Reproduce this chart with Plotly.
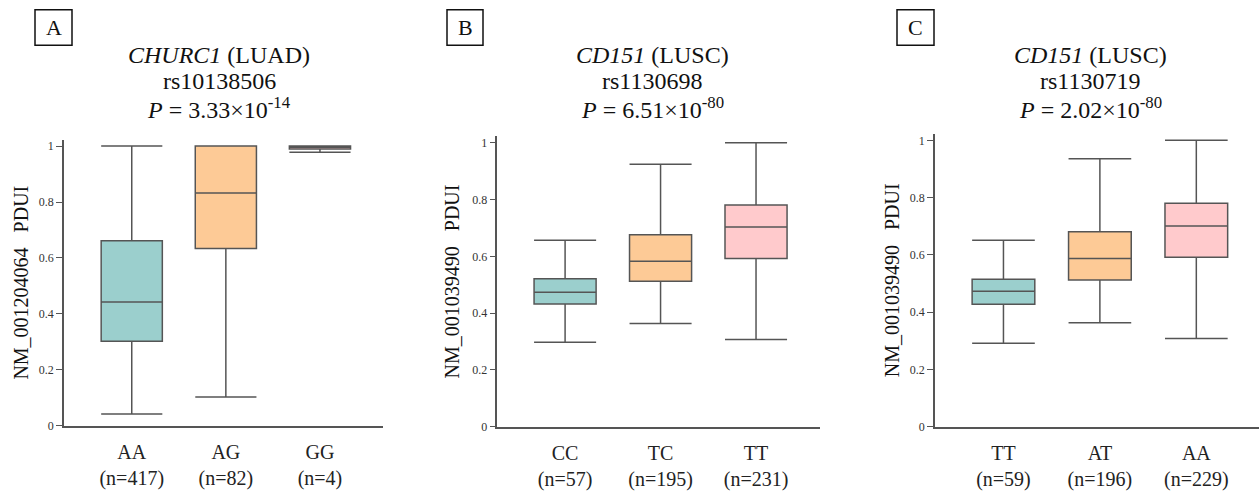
import plotly.graph_objects as go

# ---------------- data ----------------
genotypes_A = ["AA", "AG", "GG"]
n_A = [417, 82, 4]
lower_A = [0.041, 0.102, 0.978]
q1_A = [0.302, 0.634, 0.990]
median_A = [0.442, 0.832, 0.996]
q3_A = [0.661, 1.000, 1.000]
upper_A = [1.000, 1.000, 1.000]

genotypes_B = ["CC", "TC", "TT"]
n_B = [57, 195, 231]
lower_B = [0.297, 0.363, 0.307]
q1_B = [0.432, 0.512, 0.592]
median_B = [0.473, 0.583, 0.703]
q3_B = [0.521, 0.676, 0.781]
upper_B = [0.657, 0.925, 1.000]

genotypes_C = ["TT", "AT", "AA"]
n_C = [59, 196, 229]
lower_C = [0.291, 0.363, 0.308]
q1_C = [0.427, 0.512, 0.592]
median_C = [0.473, 0.587, 0.701]
q3_C = [0.515, 0.681, 0.780]
upper_C = [0.651, 0.936, 1.000]

panel_letters = ["A", "B", "C"]
genes = ["CHURC1", "CD151", "CD151"]
cancers = ["LUAD", "LUSC", "LUSC"]
snps = ["rs10138506", "rs1130698", "rs1130719"]
p_mantissa = ["3.33", "6.51", "2.02"]
p_exponent = ["-14", "-80", "-80"]
transcripts = ["NM_001204064", "NM_001039490", "NM_001039490"]
y_ticks = [0, 0.2, 0.4, 0.6, 0.8, 1]
y_tick_text = ["0", "0.2", "0.4", "0.6", "0.8", "1"]

box_colors = ["#9BCFCD", "#FDCA96", "#FFCACC"]
line_color = "#555555"
FONT = "Liberation Serif, Times New Roman, serif"

W, H = 1259, 492


def px(x):
    return x / W


def py(y):
    return 1 - y / H


panels = [
    dict(gen=genotypes_A, n=n_A, lo=lower_A, q1=q1_A, med=median_A, q3=q3_A, hi=upper_A,
         xdom=(64, 383), ydom=(141.7, 431.7), yr=1.023, xr=(-0.72, 2.67),
         title_x=219, ytitle_x=21, box=(35, 10, 72, 46)),
    dict(gen=genotypes_B, n=n_B, lo=lower_B, q1=q1_B, med=median_B, q3=q3_B, hi=upper_B,
         xdom=(497.3, 820), ydom=(138.3, 432.7), yr=1.023, xr=(-0.71, 2.67),
         title_x=652, ytitle_x=452, box=(447, 10, 483, 46)),
    dict(gen=genotypes_C, n=n_C, lo=lower_C, q1=q1_C, med=median_C, q3=q3_C, hi=upper_C,
         xdom=(935, 1259), ydom=(136, 432.7), yr=1.022, xr=(-0.71, 2.65),
         title_x=1090, ytitle_x=892, box=(897, 10, 934, 46)),
]

fig = go.Figure()
layout_axes = {}
annotations = []
shapes = []

for i, p in enumerate(panels):
    k = "" if i == 0 else str(i + 1)
    xa, ya = "x" + k, "y" + k
    for j in range(3):
        fig.add_trace(go.Box(
            x=[j], q1=[p["q1"][j]], median=[p["med"][j]], q3=[p["q3"][j]],
            lowerfence=[p["lo"][j]], upperfence=[p["hi"][j]],
            width=0.65, whiskerwidth=1, fillcolor=box_colors[j],
            line=dict(color=line_color, width=1.5), boxpoints=False,
            xaxis=xa, yaxis=ya, showlegend=False, hoverinfo="skip"))
    ticktext = [f"{g}<br>(n={c})" for g, c in zip(p["gen"], p["n"])]
    layout_axes["xaxis" + k] = dict(
        domain=[px(p["xdom"][0]), px(p["xdom"][1])], range=list(p["xr"]),
        tickvals=[0, 1, 2], ticktext=ticktext, showline=True, linecolor=line_color,
        linewidth=1.5, ticks="", showgrid=False, zeroline=False, anchor=ya,
        ticklabelstandoff=8,
        tickfont=dict(family=FONT, size=20, color="#222222"))
    layout_axes["yaxis" + k] = dict(
        domain=[py(p["ydom"][1]), py(p["ydom"][0])], range=[0, p["yr"]],
        tickvals=y_ticks, ticktext=y_tick_text, showline=True, linecolor=line_color,
        linewidth=1.5, ticks="outside", ticklen=6, tickcolor=line_color, tickwidth=1,
        showgrid=False, zeroline=False, anchor=xa,
        tickfont=dict(family=FONT, size=12, color="#333333"))
    # titles
    tx = px(p["title_x"])
    lines = [
        (f"<i>{genes[i]}</i> ({cancers[i]})", 56),
        (snps[i], 82),
        (f"<i>P</i> = {p_mantissa[i]}×10<sup>{p_exponent[i]}</sup>", 110),
    ]
    for txt, yy in lines:
        annotations.append(dict(text=txt, x=tx, y=py(yy), xref="paper", yref="paper",
                                xanchor="center", yanchor="middle", showarrow=False,
                                font=dict(family=FONT, size=24, color="#111111")))
    # y axis title
    annotations.append(dict(text=f"{transcripts[i]}&nbsp;&nbsp;&nbsp;PDUI",
                            x=px(p["ytitle_x"]), y=py((p["ydom"][0] + p["ydom"][1]) / 2),
                            xref="paper", yref="paper", textangle=-90,
                            xanchor="center", yanchor="middle", showarrow=False,
                            font=dict(family=FONT, size=20, color="#111111")))
    # panel letter
    x0, y0, x1, y1 = p["box"]
    shapes.append(dict(type="rect", xref="paper", yref="paper",
                       x0=px(x0), x1=px(x1), y0=py(y1), y1=py(y0),
                       line=dict(color="#111111", width=1.5)))
    annotations.append(dict(text=panel_letters[i], x=px((x0 + x1) / 2), y=py((y0 + y1) / 2),
                            xref="paper", yref="paper", xanchor="center", yanchor="middle",
                            showarrow=False, font=dict(family=FONT, size=22, color="#111111")))

fig.update_layout(
    width=W, height=H, margin=dict(l=0, r=0, t=0, b=0),
    paper_bgcolor="white", plot_bgcolor="white", showlegend=False,
    boxmode="overlay", annotations=annotations, shapes=shapes, **layout_axes)

fig.write_html("out.html", config={"displayModeBar": False},
               post_script="document.body.style.margin='0px';")
